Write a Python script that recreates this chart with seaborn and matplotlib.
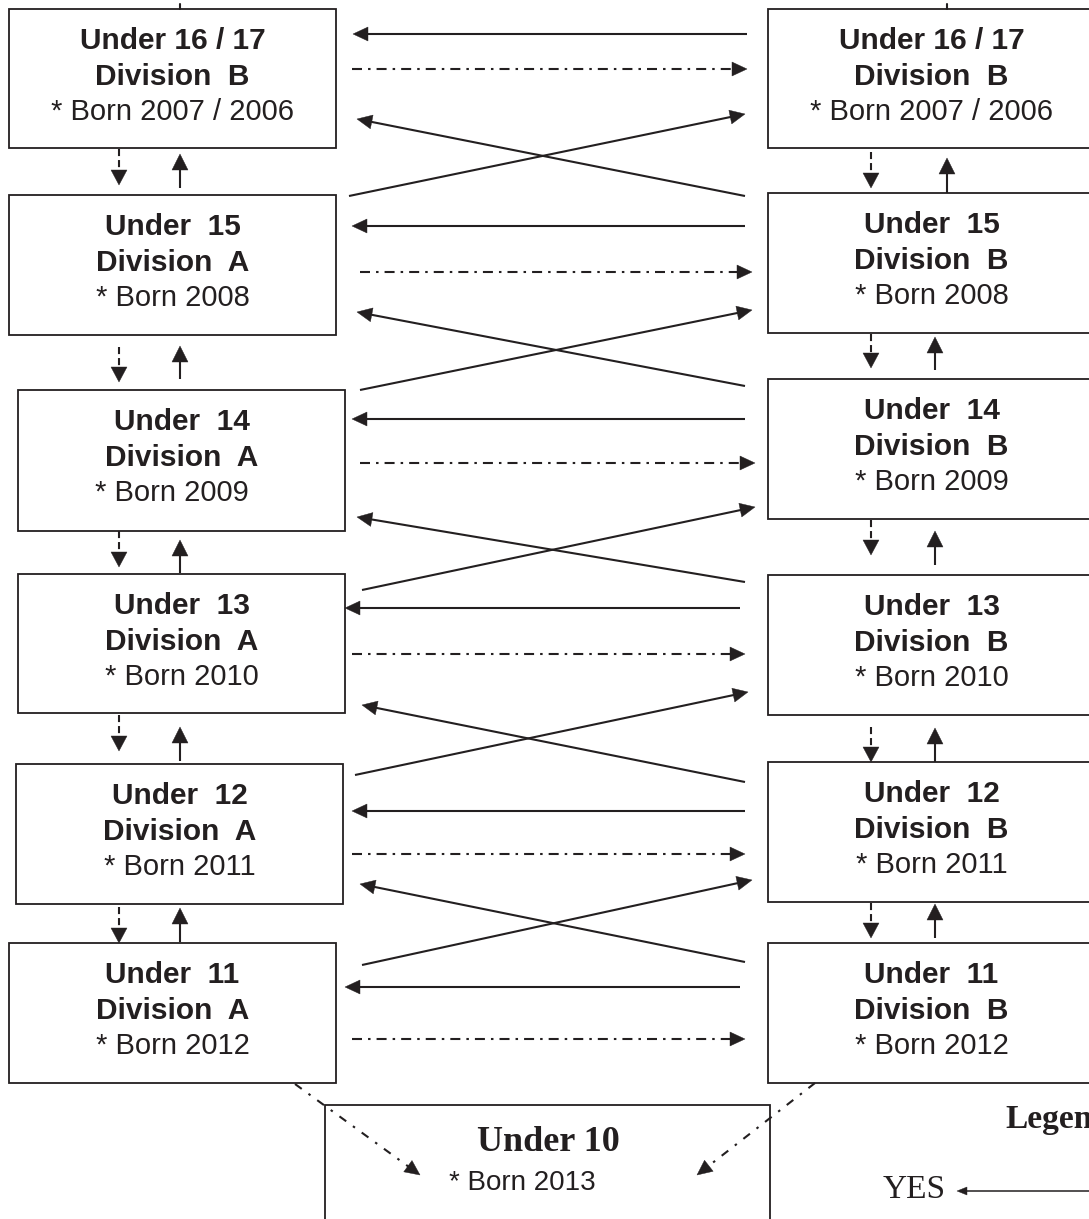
import numpy as np
import seaborn as sns
import matplotlib.pyplot as plt
from matplotlib.patches import Rectangle, Polygon

# --- Data (labels of the pathway chart) ---
age_labels = ["Under 16 / 17", "Under  15", "Under  14", "Under  13", "Under  12", "Under  11"]
left_divisions = ["Division  B", "Division  A", "Division  A", "Division  A", "Division  A", "Division  A"]
right_divisions = ["Division  B", "Division  B", "Division  B", "Division  B", "Division  B", "Division  B"]
born_years = ["2007 / 2006", "2008", "2009", "2010", "2011", "2012"]
bottom_age = "Under 10"
bottom_born = "2013"
legend_title = "Legend"
legend_yes = "YES"

# --- Layout (pixel coordinates, y grows downwards) ---
W, H = 1089, 1219
BOX_W = 327
left_x = [9, 9, 18, 18, 16, 9]
left_top = [9, 195, 390, 574, 764, 943]
left_bot = [148, 335, 531, 713, 904, 1083]
right_x = [768] * 6
right_top = [9, 193, 379, 575, 762, 943]
right_bot = [148, 333, 519, 715, 902, 1083]
born_dx_left = [0, 0, -10, 0, 0, 0]

# horizontal arrows per row
yes_y = [34, 226, 419, 608, 811, 987]
yes_x = [(747, 353), (745, 352), (745, 352), (740, 345), (745, 352), (740, 345)]
no_y = [69, 272, 463, 654, 854, 1039]
no_x = [(352, 747), (360, 752), (360, 755), (352, 745), (352, 745), (352, 745)]
# crossing arrows between rows
cross_left = [((745, 196), (357, 119)), ((745, 386), (357, 312)), ((745, 582), (357, 517)),
              ((745, 782), (362, 705)), ((745, 962), (360, 884))]
cross_right = [((349, 196), (745, 114)), ((360, 390), (752, 310)), ((362, 590), (755, 507)),
               ((355, 775), (748, 692)), ((362, 965), (752, 880))]
# vertical arrows between rows
left_down = [(149, 185), (347, 382), (531, 567), (715, 751), (907, 943)]
left_up = [(188, 154), (379, 346), (573, 540), (761, 727), (942, 908)]
right_down = [(152, 188), (334, 368), (520, 555), (727, 762), (903, 938)]
right_up = [(193, 158), (370, 337), (565, 531), (762, 728), (938, 904)]
right_up_x = [947, 935, 935, 935, 935]

INK = "#231f20"
SHAFT = 1.5
DASHDOT = (0, (4.8, 2.9, 1.2, 2.9))
DASHED = (0, (3.4, 1.9))

sns.set_theme(style="white")
plt.rcParams['font.family'] = ['Liberation Sans', 'DejaVu Sans']

fig = plt.figure(figsize=(W / 100, H / 100), dpi=100)
ax = fig.add_axes([0, 0, 1, 1])
ax.set_xlim(0, W)
ax.set_ylim(H, 0)
ax.axis("off")


def arrow(x0, y0, x1, y1, ls="-", lw=SHAFT, hl=15, hw=7):
    d = np.array([x1 - x0, y1 - y0], dtype=float)
    u = d / np.hypot(*d)
    n = np.array([-u[1], u[0]])
    tip = np.array([x1, y1], dtype=float)
    base = tip - u * hl
    shaft_end = tip - u * hl * 0.7
    ax.plot([x0, shaft_end[0]], [y0, shaft_end[1]], color=INK, lw=lw,
            linestyle=ls, solid_capstyle="butt", dash_capstyle="butt")
    ax.add_patch(Polygon([tip, base + n * hw, base - n * hw], closed=True,
                         facecolor=INK, edgecolor=INK, lw=0.3))


def box(x, top, bot, w=BOX_W):
    ax.add_patch(Rectangle((x, top), w, bot - top, facecolor="white",
                           edgecolor=INK, lw=1.3))


# boxes and their texts
for i in range(6):
    for bx, bt, bb, div, dx in [(left_x[i], left_top[i], left_bot[i], left_divisions[i], born_dx_left[i]),
                                (right_x[i], right_top[i], right_bot[i], right_divisions[i], 0)]:
        box(bx, bt, bb)
        cx = bx + BOX_W / 2
        ax.text(cx, bt + 40, age_labels[i], ha="center", va="baseline",
                fontsize=21.5, fontweight="bold", color=INK)
        ax.text(cx, bt + 76, div, ha="center", va="baseline",
                fontsize=21.5, fontweight="bold", color=INK)
        ax.text(cx + dx, bt + 111, "* Born " + born_years[i], ha="center", va="baseline",
                fontsize=21, color=INK)

# row arrows
for i in range(6):
    arrow(yes_x[i][0], yes_y[i], yes_x[i][1], yes_y[i])
    arrow(no_x[i][0], no_y[i], no_x[i][1], no_y[i], ls=DASHDOT)

for (p0, p1) in cross_left + cross_right:
    arrow(p0[0], p0[1], p1[0], p1[1])

for i in range(5):
    arrow(119, left_down[i][0], 119, left_down[i][1], ls=DASHED, hl=15, hw=8)
    arrow(180, left_up[i][0], 180, left_up[i][1], hl=16, hw=8)
    arrow(871, right_down[i][0], 871, right_down[i][1], ls=DASHED, hl=15, hw=8)
    arrow(right_up_x[i], right_up[i][0], right_up_x[i], right_up[i][1], hl=16, hw=8)

# stubs leaving the top of the page
ax.plot([180, 180], [4, 9], color=INK, lw=SHAFT)
ax.plot([947, 947], [4, 9], color=INK, lw=SHAFT)

# Under 10 box
box(325, 1105, 1320, w=445)
ax.text(548, 1151, bottom_age, ha="center", va="baseline", fontsize=26,
        fontweight="bold", family="Liberation Serif", color=INK)
ax.text(522, 1190, "* Born " + bottom_born, ha="center", va="baseline",
        fontsize=20, color=INK)
arrow(295, 1084, 420, 1175, ls=(0, (4, 4, 1.2, 4)), hl=15, hw=7)
arrow(815, 1083, 697, 1175, ls=(0, (4, 4, 1.2, 4)), hl=15, hw=7)

# legend (cut off at the page edge, as in the source page)
ax.text(1005, 1128, legend_title, ha="left", va="baseline", fontsize=24,
        fontweight="bold", family="Liberation Serif", color=INK)
ax.text(883, 1198, legend_yes, ha="left", va="baseline", fontsize=24,
        family="Liberation Serif", color=INK)
arrow(1100, 1191, 957, 1191, lw=1.1, hl=10, hw=4)

fig.savefig("out.png", dpi=100)
